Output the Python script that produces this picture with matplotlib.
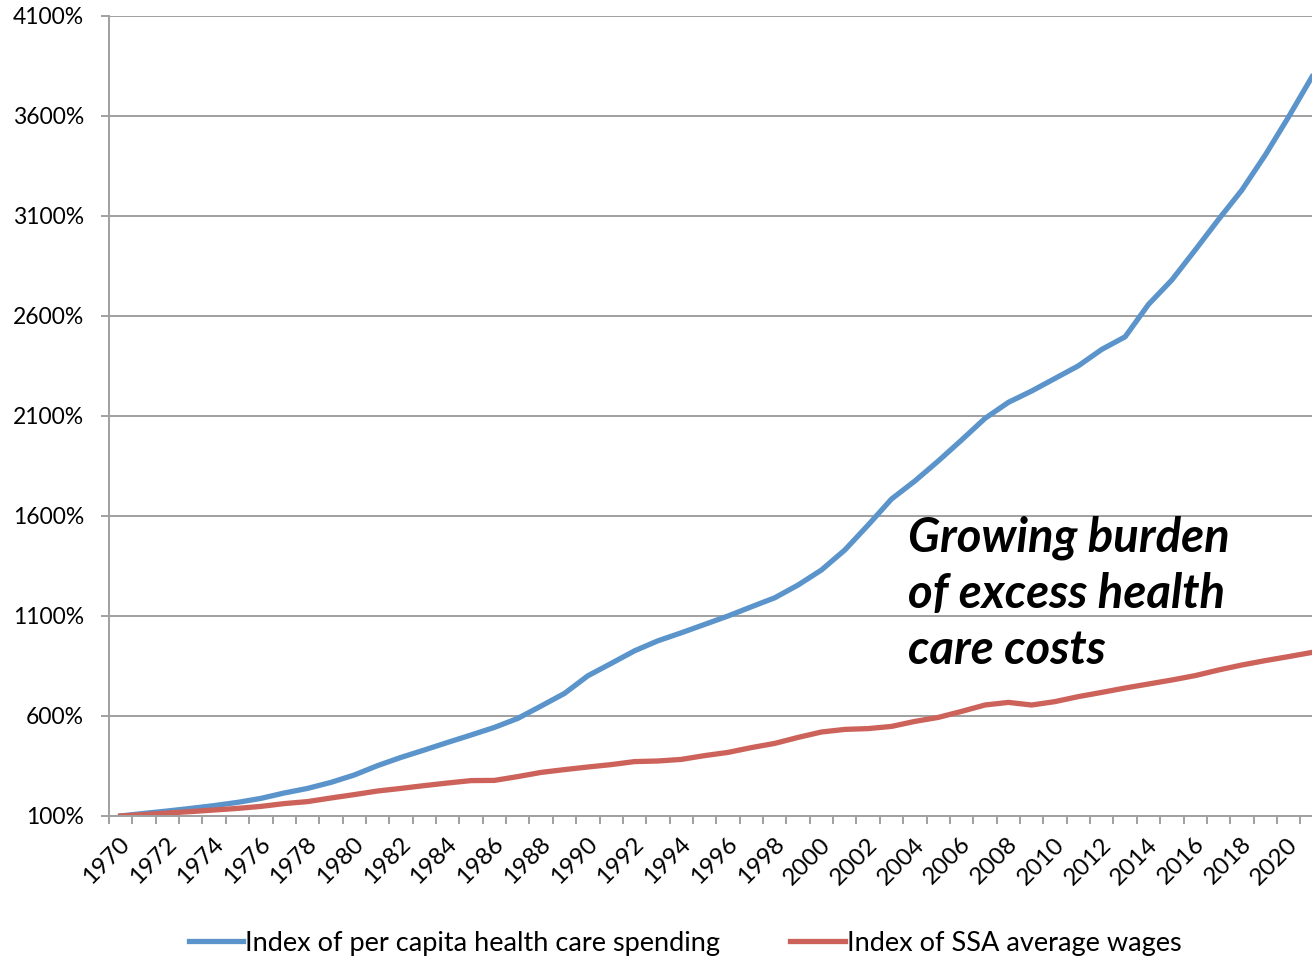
import matplotlib
matplotlib.use("Agg")
import matplotlib.pyplot as plt
import matplotlib.transforms as mtransforms
from matplotlib.ticker import FixedLocator, FuncFormatter

plt.rcParams["font.family"] = ["Lato", "DejaVu Sans"]

years = list(range(1970, 2022))

# index values, 1970 = 100%
health_spending = [
    100, 113, 125, 138, 152, 168, 188, 215, 238, 268,
    305, 352, 393, 430, 468, 505, 543, 588, 650, 713,
    801, 863, 926, 976, 1016, 1058, 1100, 1146, 1191, 1255,
    1330, 1430, 1555, 1685, 1775, 1875, 1980, 2088, 2168, 2225,
    2288, 2351, 2433, 2496, 2658, 2780, 2930, 3083, 3230, 3405,
    3596, 3796,
]
ssa_wages = [
    100, 107, 115, 122, 130, 138, 148, 162, 172, 190,
    207, 225, 238, 252, 265, 277, 278, 297, 318, 332,
    345, 357, 372, 375, 383, 402, 418, 442, 463, 493,
    520, 533, 537, 548, 573, 593, 623, 655, 668, 655,
    672, 697, 718, 740, 760, 780, 802, 830, 855, 877,
    897, 918,
]

y_ticks = list(range(100, 4101, 500))
x_label_years = list(range(1970, 2021, 2))

blue = "#5B94CB"
red = "#CC6259"
grid_gray = "#A0A0A0"

fig = plt.figure(figsize=(13.12, 9.57), dpi=100)
ax = fig.add_axes([109 / 1312, 1 - 816 / 957, 1 - 109 / 1312, 800 / 957])

ax.plot(years, health_spending, color=blue, lw=3.8,
        label="Index of per capita health care spending", solid_joinstyle="round")
ax.plot(years, ssa_wages, color=red, lw=3.8,
        label="Index of SSA average wages", solid_joinstyle="round")

ax.set_xlim(1969.55, 2021.0)
ax.set_ylim(100, 4100)

ax.yaxis.set_major_locator(FixedLocator(y_ticks))
ax.yaxis.set_major_formatter(FuncFormatter(lambda v, _: f"{int(v)}%"))
ax.grid(axis="y", color=grid_gray, lw=1.4)
ax.set_axisbelow(True)

ax.set_xticks(x_label_years)
ax.set_xticklabels([str(y) for y in x_label_years], rotation=45,
                   ha="right", va="center", rotation_mode="anchor")
ax.set_xticks([y - 0.5 for y in range(1970, 2022)], minor=True)
ax.tick_params(axis="x", which="major", length=0, pad=18, labelsize=17.5)
ax.tick_params(axis="x", which="minor", length=6, width=1.4, color=grid_gray)
ax.tick_params(axis="y", length=6, width=1.4, color=grid_gray, labelsize=16.5, pad=12)

# nudge the slanted year labels a little to the right
shift = mtransforms.ScaledTranslation(6 / 100, 0, fig.dpi_scale_trans)
for lbl in ax.get_xticklabels():
    lbl.set_transform(lbl.get_transform() + shift)

for side in ("top", "right"):
    ax.spines[side].set_visible(False)
for side in ("left", "bottom"):
    ax.spines[side].set_color(grid_gray)
    ax.spines[side].set_linewidth(1.4)

fig.text(908 / 1312, 1 - 516 / 957,
         "Growing burden\nof excess health\ncare costs",
         fontsize=34, fontweight="bold", fontstyle="italic",
         ha="left", va="top", linespacing=1.33)

fig.legend(loc="center", bbox_to_anchor=(685 / 1312, 1 - 943 / 957), ncol=2,
           frameon=False, fontsize=19.5, handlelength=2.0, handletextpad=0.08,
           columnspacing=2.6)

fig.savefig("out.png", dpi=100)
